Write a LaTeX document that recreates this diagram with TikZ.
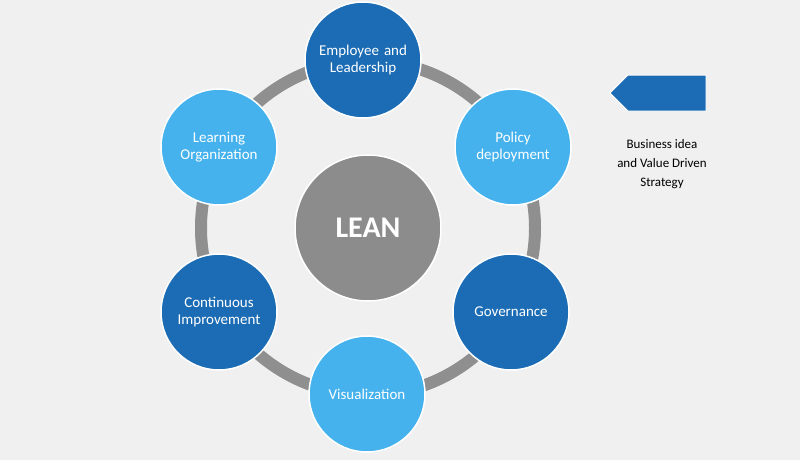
\documentclass[tikz,border=0pt]{standalone}
\usepackage{fontspec}
\setmainfont{Carlito}
\usetikzlibrary{shapes.arrows}
\definecolor{darkblue}{HTML}{1B6CB4}
\definecolor{lightblue}{HTML}{45B2EE}
\definecolor{leangray}{HTML}{8C8C8C}
\definecolor{ringgray}{HTML}{8F8F8F}
\definecolor{bg}{HTML}{F0F0F0}
\tikzset{
    item/.style={circle, draw=white, line width=1.5pt, minimum size=116pt,
        text width=100pt, align=center, text=white, font=\fontsize{15}{17}\selectfont},
    darkitem/.style={item, fill=darkblue},
    lightitem/.style={item, fill=lightblue},
}
\begin{document}
\begin{tikzpicture}[x=1pt,y=-1pt]
    \fill[bg] (0,0) rectangle (800,460);
    \draw[ringgray, line width=12pt] (368,228) circle (167);
    \node[circle, fill=leangray, draw=white, line width=1.5pt, minimum size=146pt,
        text=white, font=\fontsize{30}{34}\selectfont\bfseries] (lean) at (368,228) {LEAN};
    \node[darkitem] (employee) at (363,60) {Employee and\\Leadership};
    \node[lightitem] (policy) at (513,147) {Policy\\deployment};
    \node[darkitem] (governance) at (511,312) {Governance};
    \node[lightitem] (visual) at (367,394) {Visualization};
    \node[darkitem] (improve) at (219,312) {Continuous\\Improvement};
    \node[lightitem] (learning) at (219,147) {Learning\\Organization};
    \node[single arrow, fill=darkblue, draw=white, line width=1pt, shape border rotate=180,
        minimum height=96pt, minimum width=36pt, single arrow head extend=0pt,
        single arrow tip angle=90, inner sep=5pt] (arrow) at (667,93) {};
    \node[align=center, font=\fontsize{13}{19}\selectfont] (strategy) at (662,164)
        {Business idea\\and Value Driven\\Strategy};
\end{tikzpicture}
\end{document}
